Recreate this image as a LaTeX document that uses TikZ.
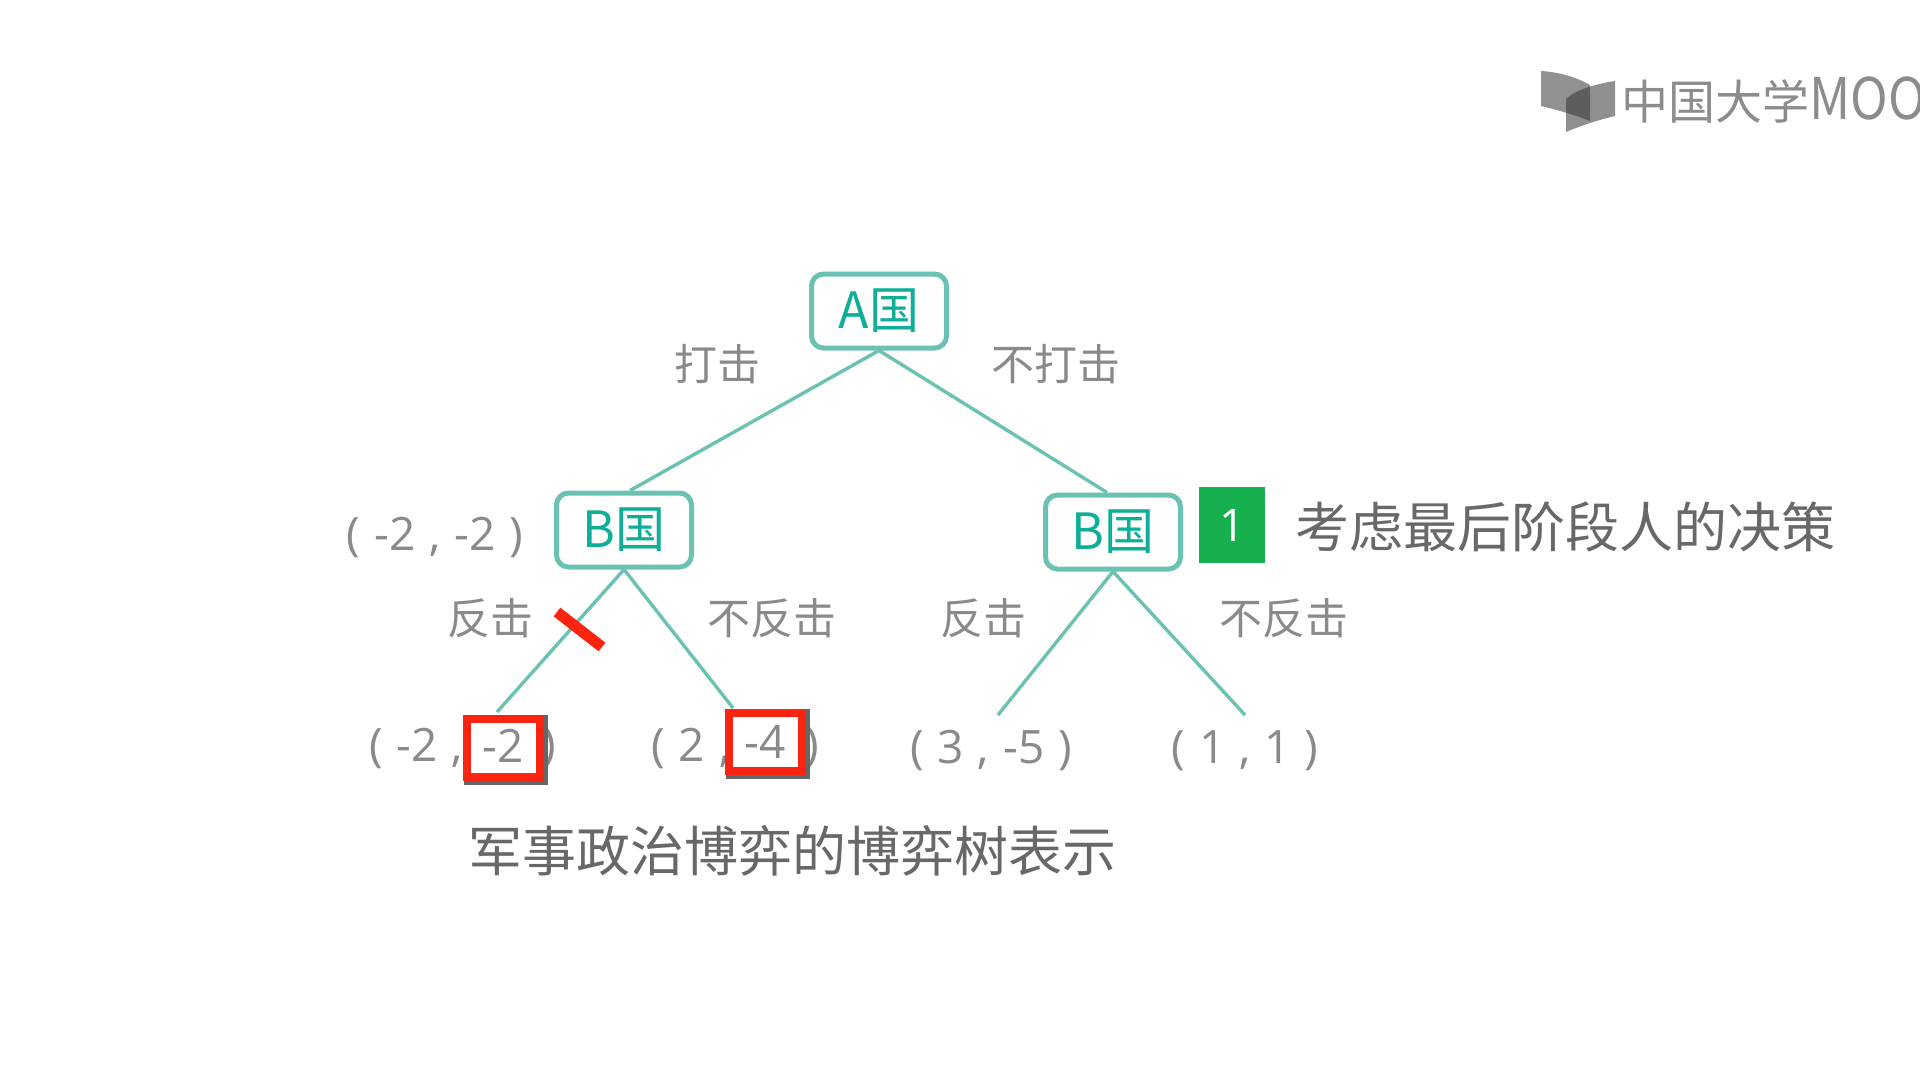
\documentclass[tikz,border=0pt]{standalone}
\usepackage{fontspec}
\usepackage{graphicx}
\setmainfont{Noto Sans CJK SC}
\newfontfamily\numfont{Open Sans}
\definecolor{teal1}{HTML}{6CC2B2}
\definecolor{teal2}{HTML}{0FAE96}
\definecolor{lab}{HTML}{8A8A8A}
\definecolor{capt}{HTML}{686868}
\definecolor{okgreen}{HTML}{17B04F}
\definecolor{redm}{HTML}{FA2411}
\definecolor{logog}{HTML}{8C8C8C}
\newcommand{\fs}[1]{\fontsize{#1}{#1}\selectfont}
\newcommand{\gp}{\hspace{14pt}}
\tikzset{
  x=1pt,y=-1pt,
  country/.style={draw=teal1,line width=5pt,rounded corners=12pt,fill=white,text=teal2,minimum width=135pt,minimum height=74pt,inner sep=0pt,font=\fs{50}},
  branch/.style={draw=teal1,line width=3.4pt},
  lbl/.style={text=lab,inner sep=0pt,font=\fs{43}},
  pay/.style={text=lab,inner sep=0pt,font=\fs{46}\numfont},
  mark box/.style={draw=redm,line width=8.5pt,fill=white,text=lab,inner sep=0pt,minimum width=73pt,minimum height=58pt,font=\fs{46}\numfont},
  shadowbox/.style={draw=black!60,line width=8pt},
  strike/.style={draw=redm,line width=11pt},
  title/.style={text=capt,inner sep=0pt,font=\fs{54}},
}
\begin{document}
\begin{tikzpicture}
\useasboundingbox (0,0) rectangle (1920,1080);
\clip (0,0) rectangle (1920,1080);
\fill[white] (0,0) rectangle (1920,1080);
% logo
\fill[logog,fill opacity=.95] (1541,71) .. controls (1560,72) and (1578,78) .. (1590,85) -- (1590,121) .. controls (1575,115) and (1558,110) .. (1541,106) -- cycle;
\fill[black!80,fill opacity=.55] (1615,81) .. controls (1595,84) and (1575,90) .. (1566,99) -- (1566,132) .. controls (1580,126) and (1598,120) .. (1615,116) -- cycle;
\node[anchor=west,inner sep=0pt,text=logog,font=\fs{47}] (logo) at (1621,100) {中国大学\scalebox{1.08}[1.22]{MOOC}};
% coordinates
\coordinate (ll) at (497,712);
\coordinate (lr) at (733,708);
\coordinate (rl) at (998,715);
\coordinate (rr) at (1245,715);
% nodes
\node[country] (A) at (879,311) {A国};
\node[country] (BL) at (624,530) {B国};
\node[country] (BR) at (1113,532) {B国};
% branches
\draw[branch] (A.south) -- ([xshift=6pt]BL.north);
\draw[branch] (A.south) -- ([xshift=-6pt]BR.north);
\draw[branch] (BL.south) -- (ll);
\draw[branch] (BL.south) -- (lr);
\draw[branch] (BR.south) -- (rl);
\draw[branch] (BR.south) -- (rr);
% labels
\node[lbl] (l1) at (717,364) {打击};
\node[lbl] (l2) at (1056,364) {不打击};
\node[lbl] (l3) at (490,618) {反击};
\node[lbl] (l4) at (772,618) {不反击};
\node[lbl] (l5) at (983,618) {反击};
\node[lbl] (l6) at (1284,618) {不反击};
\node[pay] (p0) at (435,537) {(\gp-2\gp,\gp-2\gp)};
% leaf payoffs
\node[pay,anchor=west] (p1) at (369,748) {(\gp-2\gp,};
\node[pay] (p1b) at (549,748) {)};
\node[pay,anchor=west] (p2) at (651,748) {(\gp2\gp,};
\node[pay] (p2b) at (812,748) {)};
\node[pay] (p3) at (991,750) {(\gp3\gp,\gp-5\gp)};
\node[pay] (p4) at (1245,751) {(\gp1\gp,\gp1\gp)};
% red marks
\draw[strike] (557,612) -- (602,647);
\draw[shadowbox] (467.5,719) rectangle (544,781);
\draw[shadowbox] (729.5,713) rectangle (806,775);
\node[mark box] (m1) at (503.5,748) {\raisebox{3.5pt}{-2}};
\node[mark box] (m2) at (765.5,742) {\raisebox{-3.5pt}{-4}};
% side note
\node[fill=okgreen,text=white,minimum width=66pt,minimum height=76pt,inner sep=0pt,font=\fs{45}\numfont] (n1) at (1232,525) {1};
\node[title] (t1) at (1565,527) {考虑最后阶段人的决策};
\node[title] (t2) at (792,851) {军事政治博弈的博弈树表示};
\end{tikzpicture}
\end{document}
